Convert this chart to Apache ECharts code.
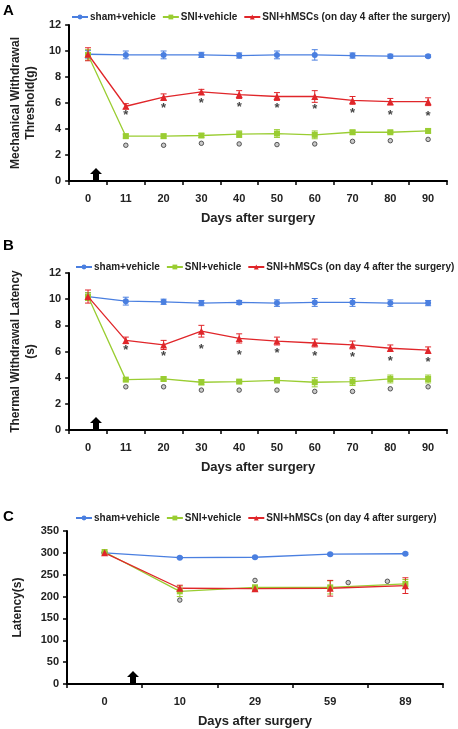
<!DOCTYPE html>
<html><head><meta charset="utf-8">
<script src="https://cdn.jsdelivr.net/npm/echarts@6/dist/echarts.min.js"></script>
<style>html,body{margin:0;background:#fff}#main{width:458px;height:729px}</style>
</head><body><div id="main"></div>
<script>
// panel A / B days
const daysAB = ['0', '11', '20', '30', '40', '50', '60', '70', '80', '90'];
const daysC = ['0', '10', '29', '59', '89'];

// A: mechanical withdrawal threshold (g)
const aSham = [9.75, 9.7, 9.7, 9.7, 9.65, 9.7, 9.7, 9.65, 9.6, 9.6];
const aShamErr = [0.3, 0.3, 0.3, 0.2, 0.2, 0.3, 0.4, 0.2, 0.15, 0.1];
const aSni = [9.7, 3.45, 3.45, 3.5, 3.6, 3.65, 3.55, 3.75, 3.75, 3.85];
const aSniErr = [0.4, 0.15, 0.15, 0.15, 0.25, 0.3, 0.3, 0.15, 0.1, 0.15];
const aMsc = [9.75, 5.75, 6.45, 6.85, 6.65, 6.5, 6.5, 6.2, 6.1, 6.1];
const aMscErr = [0.5, 0.2, 0.25, 0.2, 0.3, 0.3, 0.45, 0.3, 0.25, 0.3];
const aStar = [null, 5.3, 5.8, 6.2, 5.9, 5.8, 5.7, 5.4, 5.3, 5.2];
const aCirc = [null, 2.75, 2.75, 2.9, 2.85, 2.8, 2.85, 3.05, 3.1, 3.2];

// B: thermal withdrawal latency (s)
const bSham = [10.2, 9.85, 9.8, 9.7, 9.75, 9.7, 9.75, 9.75, 9.7, 9.7];
const bShamErr = [0.3, 0.3, 0.2, 0.2, 0.15, 0.25, 0.3, 0.3, 0.25, 0.2];
const bSni = [10.2, 3.85, 3.9, 3.65, 3.7, 3.8, 3.65, 3.7, 3.9, 3.9];
const bSniErr = [0.3, 0.1, 0.15, 0.2, 0.1, 0.2, 0.35, 0.3, 0.3, 0.3];
const bMsc = [10.2, 6.85, 6.5, 7.55, 7.0, 6.8, 6.65, 6.5, 6.25, 6.1];
const bMscErr = [0.5, 0.25, 0.35, 0.45, 0.35, 0.3, 0.3, 0.3, 0.25, 0.25];
const bStar = [null, 6.3, 5.85, 6.35, 5.9, 6.05, 5.85, 5.8, 5.5, 5.4];
const bCirc = [null, 3.3, 3.3, 3.05, 3.05, 3.05, 2.95, 2.95, 3.15, 3.3];

// C: latency (s)
const cSham = [300, 289, 290, 297, 298];
const cShamErr = [0, 2, 2, 2, 2];
const cSni = [302, 212, 221, 221, 229];
const cSniErr = [0, 12, 5, 15, 10];
const cMsc = [300, 219, 218, 219, 225];
const cMscErr = [0, 7, 5, 18, 18];
const cCirc = [null, 192, 237, 232, 235];
const cCircOffset = [0, 0, 0, 18, -18];

const BLUE = '#4a7fe0', GREEN = '#9acd32', RED = '#e0262a';
const FONT = 'Liberation Sans';
const names = ['sham+vehicle', 'SNI+vehicle', 'SNI+hMSCs (on day 4 after the surgery)'];
const namesC = ['sham+vehicle', 'SNI+vehicle', 'SNI+hMSCs (on day 4 after surgery)'];

function errBars(vals, errs, color, g) {
  return {
    type: 'custom', xAxisIndex: g, yAxisIndex: g, z: 3,
    data: vals.map((v, i) => [i, v, errs[i]]),
    renderItem: function (params, api) {
      const x = api.value(0), v = api.value(1), e = api.value(2);
      const hi = api.coord([x, v + e]), lo = api.coord([x, v - e]);
      const w = 3;
      return { type: 'group', children: [
        { type: 'line', shape: { x1: hi[0], y1: hi[1], x2: lo[0], y2: lo[1] }, style: { stroke: color, lineWidth: 1 } },
        { type: 'line', shape: { x1: hi[0] - w, y1: hi[1], x2: hi[0] + w, y2: hi[1] }, style: { stroke: color, lineWidth: 1 } },
        { type: 'line', shape: { x1: lo[0] - w, y1: lo[1], x2: lo[0] + w, y2: lo[1] }, style: { stroke: color, lineWidth: 1 } }
      ]};
    }
  };
}
function line(name, vals, color, symbol, g) {
  return { name: name, type: 'line', xAxisIndex: g, yAxisIndex: g, data: vals, z: 4,
    symbol: symbol, symbolSize: symbol === 'triangle' ? 7 : 6,
    lineStyle: { color: color, width: 1.3 }, itemStyle: { color: color } };
}
function stars(vals, g) {
  return { type: 'scatter', xAxisIndex: g, yAxisIndex: g, symbolSize: 0, data: vals,
    label: { show: true, formatter: '*', fontFamily: FONT, fontWeight: 'bold', fontSize: 13, color: '#111', position: 'inside', offset: [0, 3] } };
}
function circs(vals, g, offs) {
  return { type: 'scatter', xAxisIndex: g, yAxisIndex: g, symbol: 'circle', symbolSize: 4.5,
    data: vals.map((v, i) => ({ value: v, symbolOffset: [offs ? offs[i] : 0, 0] })),
    itemStyle: { color: '#bbb', borderColor: '#333', borderWidth: 1 } };
}
const grids = [
  { left: 67, right: 11, top: 25, height: 156 },
  { left: 67, right: 11, top: 273, height: 157 },
  { left: 67, right: 15, top: 531, height: 153 }
];
function xAxis(data, g) {
  return { type: 'category', gridIndex: g, data: data, boundaryGap: true,
    name: 'Days after surgery', nameLocation: 'middle', nameGap: 31,
    nameTextStyle: { fontFamily: FONT, fontWeight: 'bold', fontSize: 13, color: '#222' },
    axisLine: { lineStyle: { color: '#000', width: 2 } },
    axisTick: { show: true, length: 4, lineStyle: { color: '#000', width: 1.5 } },
    axisLabel: { fontFamily: FONT, fontWeight: 'bold', fontSize: 11, color: '#222', margin: 12 } };
}
function yAxis(name, max, interval, g, gap) {
  return { type: 'value', gridIndex: g, min: 0, max: max, interval: interval,
    name: name, nameLocation: 'middle', nameGap: gap,
    nameTextStyle: { fontFamily: FONT, fontWeight: 'bold', fontSize: 12, color: '#222', lineHeight: 15 },
    splitLine: { show: false },
    axisLine: { show: true, lineStyle: { color: '#000', width: 2 } },
    axisTick: { show: true, length: 4, lineStyle: { color: '#000', width: 1.5 } },
    axisLabel: { fontFamily: FONT, fontWeight: 'bold', fontSize: 11, color: '#222' } };
}
function legend(top, data, left) {
  return { top: top, left: left, data: data, itemGap: 6, itemWidth: 16, itemHeight: 6, width: 400,
    textStyle: { fontFamily: FONT, fontWeight: 'bold', fontSize: 10, color: '#222', padding: [0, 0, 0, -3] } };
}
function arrow(cx, by) {
  return { type: 'polygon', shape: { points: [[cx - 3, by], [cx - 3, by - 7], [cx - 6, by - 7], [cx, by - 13], [cx + 6, by - 7], [cx + 3, by - 7], [cx + 3, by]] },
    style: { fill: '#000' } };
}
function panelLetter(t, x, y) {
  return { type: 'text', left: x, top: y, style: { text: t, font: 'bold 15px ' + FONT, fill: '#000' } };
}

const option = {
  animation: false,
  grid: grids,
  legend: [legend(7, names, 66), legend(257, names, 70), legend(508, namesC, 70)],
  xAxis: [xAxis(daysAB, 0), xAxis(daysAB, 1), xAxis(daysC, 2)],
  yAxis: [yAxis('Mechanical Withdrawal\nThreshold(g)', 12, 2, 0, 26), yAxis('Thermal Withdrawal Latency\n(s)', 12, 2, 1, 26), yAxis('Latency(s)', 350, 50, 2, 42)],
  graphic: [panelLetter('A', 3, 3), panelLetter('B', 3, 238), panelLetter('C', 3, 509),
    arrow(96, 181), arrow(96, 430), arrow(133, 684)],
  series: [
    errBars(aSham, aShamErr, BLUE, 0), errBars(aSni, aSniErr, GREEN, 0), errBars(aMsc, aMscErr, RED, 0),
    line(names[0], aSham, BLUE, 'circle', 0), line(names[1], aSni, GREEN, 'rect', 0), line(names[2], aMsc, RED, 'triangle', 0),
    stars(aStar, 0), circs(aCirc, 0),
    errBars(bSham, bShamErr, BLUE, 1), errBars(bSni, bSniErr, GREEN, 1), errBars(bMsc, bMscErr, RED, 1),
    line(names[0], bSham, BLUE, 'circle', 1), line(names[1], bSni, GREEN, 'rect', 1), line(names[2], bMsc, RED, 'triangle', 1),
    stars(bStar, 1), circs(bCirc, 1),
    errBars(cSham, cShamErr, BLUE, 2), errBars(cSni, cSniErr, GREEN, 2), errBars(cMsc, cMscErr, RED, 2),
    line(namesC[0], cSham, BLUE, 'circle', 2), line(namesC[1], cSni, GREEN, 'rect', 2), line(namesC[2], cMsc, RED, 'triangle', 2),
    circs(cCirc, 2, cCircOffset)
  ]
};
const myChart = echarts.init(document.getElementById('main'));
myChart.setOption(option);
</script>
</body></html>
